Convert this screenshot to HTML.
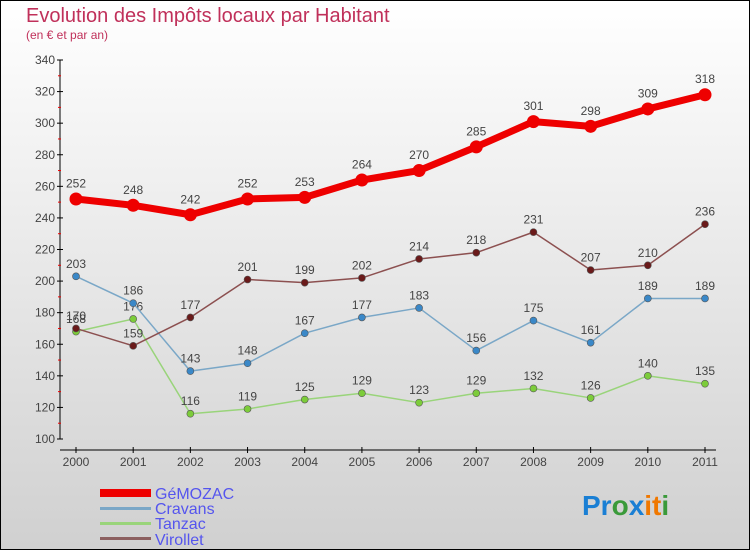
<!DOCTYPE html>
<html><head><meta charset="utf-8"><style>
body{margin:0}
svg{display:block;font-family:"Liberation Sans",sans-serif}
</style></head><body>
<svg id="c" width="750" height="550" viewBox="0 0 750 550">
<defs><linearGradient id="bg" x1="0" y1="0" x2="0" y2="1"><stop offset="0" stop-color="#ffffff"/><stop offset="1" stop-color="#d0d0d0"/></linearGradient></defs>
<rect x="0.5" y="0.5" width="749" height="549" fill="url(#bg)" stroke="#000"/>
<text x="26" y="22" font-size="20" fill="#c0305a">Evolution des Impôts locaux par Habitant</text>
<text x="26" y="39" font-size="12" fill="#c0305a">(en € et par an)</text>
<g id="axes"></g><g id="series"></g>
<g>
<rect x="100" y="489" width="51" height="8" fill="#e00"/>
<rect x="100" y="507" width="51" height="3" fill="#7aa7c7"/>
<rect x="100" y="522" width="51" height="3" fill="#99d47a"/>
<rect x="100" y="537" width="51" height="3" fill="#8c6060"/>
<text x="155" y="499" font-size="16" fill="#5555ee">GéMOZAC</text>
<text x="155" y="514" font-size="16" fill="#5555ee">Cravans</text>
<text x="155" y="529" font-size="16" fill="#5555ee">Tanzac</text>
<text x="155" y="545" font-size="16" fill="#5555ee">Virollet</text>
</g>
<text x="582" y="515" font-size="28" font-weight="bold"><tspan fill="#1a7fd4">Pr</tspan><tspan fill="#3a9a3a">o</tspan><tspan fill="#1a7fd4">x</tspan><tspan fill="#f07800">it</tspan><tspan fill="#3a9a3a">i</tspan></text>
</svg>
<script>
const years=[2000,2001,2002,2003,2004,2005,2006,2007,2008,2009,2010,2011];
const gemozac=[252,248,242,252,253,264,270,285,301,298,309,318];
const cravans=[203,186,143,148,167,177,183,156,175,161,189,189];
const tanzac=[168,176,116,119,125,129,123,129,132,126,140,135];
const virollet=[170,159,177,201,199,202,214,218,231,207,210,236];
const yTicks=[100,120,140,160,180,200,220,240,260,280,300,320,340];
const NS="http://www.w3.org/2000/svg";
const X=i=>76+i*(705-76)/(years.length-1);
const Y=v=>439-(v-100)*(439-60)/240;
function mk(t,a,p){const e=document.createElementNS(NS,t);for(const k in a)e.setAttribute(k,a[k]);p.appendChild(e);return e;}
const ax=document.getElementById('axes'),sg=document.getElementById('series');
mk('line',{x1:60,y1:Y(340),x2:60,y2:Y(100),stroke:'#000'},ax);
mk('line',{x1:60,y1:450,x2:716,y2:450,stroke:'#000'},ax);
yTicks.forEach(v=>{mk('line',{x1:57,y1:Y(v),x2:63,y2:Y(v),stroke:'#000'},ax);
 if(v<340)mk('line',{x1:58,y1:Y(v+10),x2:61,y2:Y(v+10),stroke:'#e00'},ax);
 const t=mk('text',{x:55,y:Y(v)+4,'font-size':12,'text-anchor':'end',fill:'#444'},ax);t.textContent=v;
 });
years.forEach((y,i)=>{mk('line',{x1:X(i),y1:447,x2:X(i),y2:453,stroke:'#000'},ax);
 const t=mk('text',{x:X(i),y:466,'font-size':12,'text-anchor':'middle',fill:'#444'},ax);t.textContent=y;
 });
function series(name,data,col,dot,w,r){
 const g=mk('g',{},sg);
 
 mk('polyline',{points:data.map((v,i)=>X(i)+','+Y(v)).join(' '),fill:'none',stroke:col,'stroke-width':w,'stroke-linejoin':'round'},g);
 data.forEach((v,i)=>{const c=mk('circle',{cx:X(i),cy:Y(v),r:r,fill:dot,stroke:'#555','stroke-width':r>5?0:0.6},g);
  
  const t=mk('text',{x:X(i),y:Y(v)-(r+5),'font-size':12,'text-anchor':'middle',fill:'#444'},g);t.textContent=v;
  });
}
series('tanzac',tanzac,'#99d47a','#7ccc3a',1.5,3.5);
series('cravans',cravans,'#7aa7c7','#3a88c8',1.5,3.5);
series('virollet',virollet,'#8c5050','#6a1a1a',1.5,3.5);
series('gemozac',gemozac,'#ee0000','#ee0000',7,6.5);
</script>
</body></html>
